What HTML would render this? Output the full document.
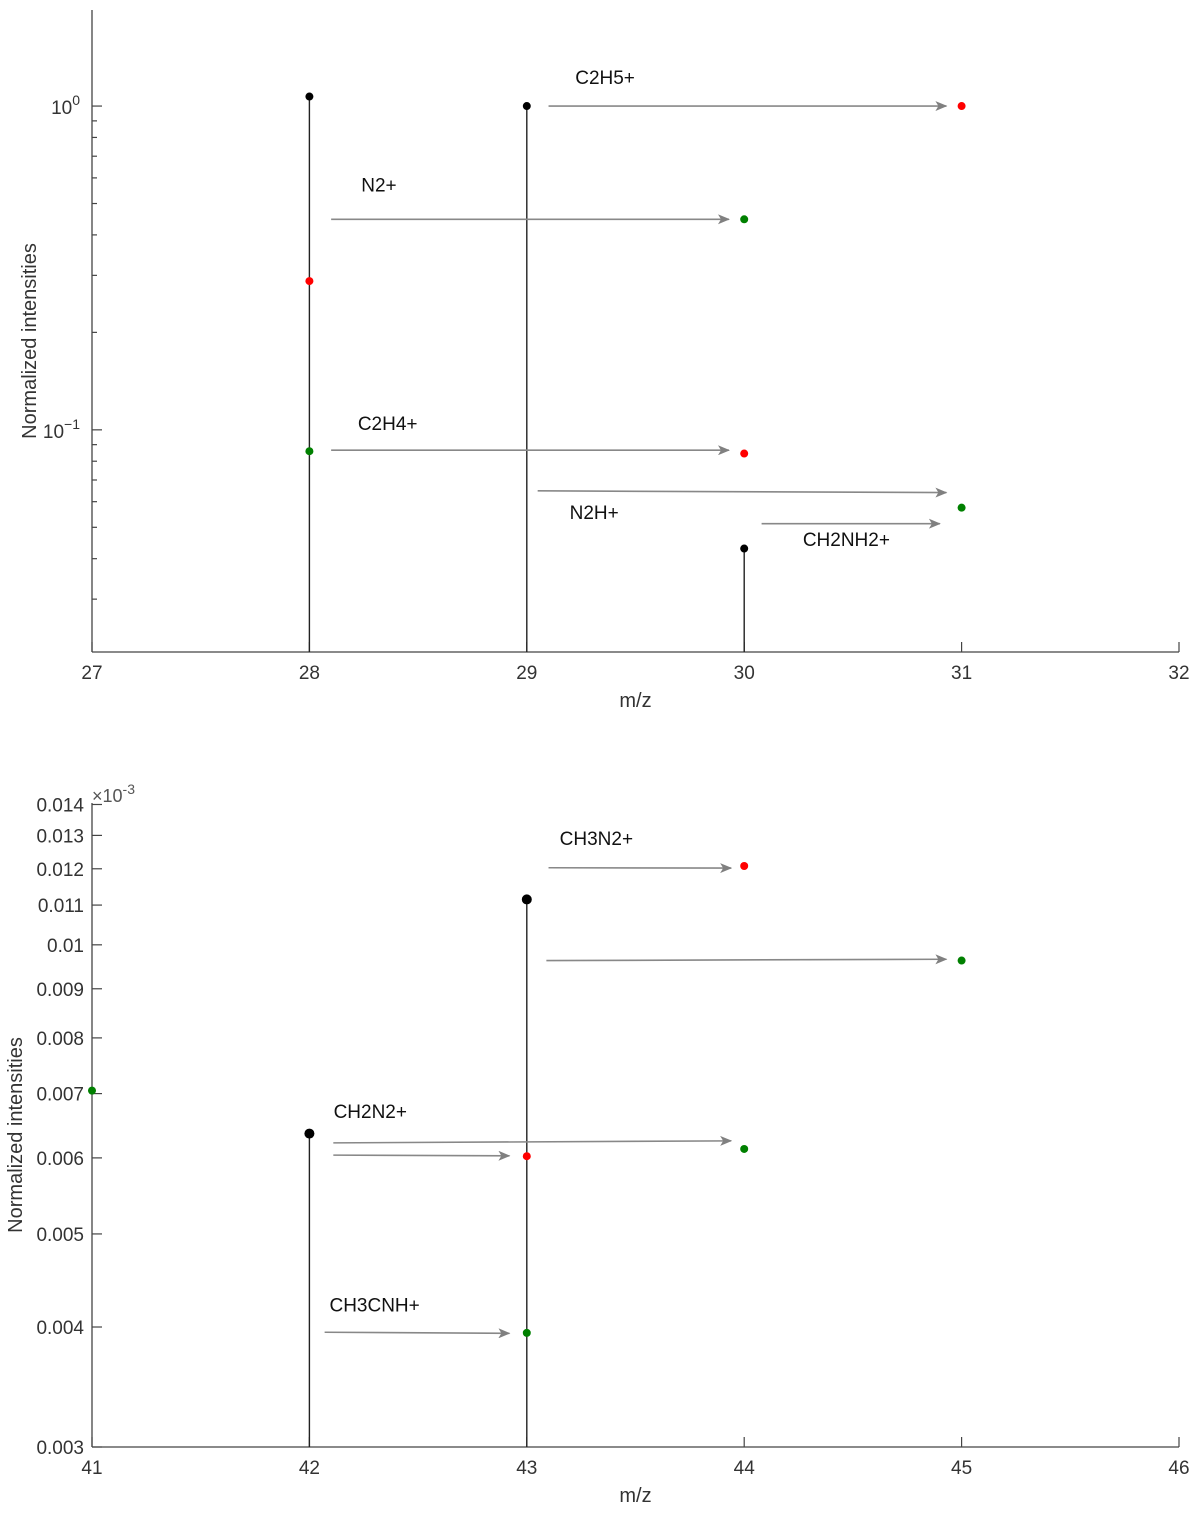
<!DOCTYPE html>
<html><head><meta charset="utf-8"><style>
html,body{margin:0;padding:0;background:#fff;}
svg{display:block;font-family:"Liberation Sans",sans-serif;}
</style></head><body>
<svg id="chart" width="1200" height="1519" viewBox="0 0 1200 1519">
<defs><marker id="ah" markerWidth="12" markerHeight="10" refX="11" refY="5" orient="auto" markerUnits="userSpaceOnUse"><path d="M0,0 L12,5 L0,10 L3,5 Z" fill="#808080"/></marker></defs>
</svg>
<script>
// ---- top panel data ----
const topXTicks=[27,28,29,30,31,32];
const topBlackX=[28,29,30];
const topBlackY=[1.07,1.0,0.043];
const topRedX=[28,30,31];
const topRedY=[0.288,0.0845,1.0];
const topGreenX=[28,30,31];
const topGreenY=[0.0859,0.447,0.0575];
const topArrowX0=[29.1,28.1,28.1,29.05,30.08];
const topArrowX1=[30.93,29.93,29.93,30.93,30.9];
const topArrowY0=[1.0,0.447,0.0865,0.0648,0.0513];
const topArrowY1=[1.0,0.447,0.0865,0.064,0.0513];
const topLabels=["C2H5+","N2+","C2H4+","N2H+","CH2NH2+"];
const topLabelX=[29.36,28.32,28.36,29.31,30.47];
const topLabelY=[1.17,0.545,0.1,0.053,0.0437];
// ---- bottom panel data ----
const botXTicks=[41,42,43,44,45,46];
const botYTicks=[0.003,0.004,0.005,0.006,0.007,0.008,0.009,0.01,0.011,0.012,0.013,0.014];
const botYTickLabels=["0.003","0.004","0.005","0.006","0.007","0.008","0.009","0.01","0.011","0.012","0.013","0.014"];
const botBlackX=[42,43];
const botBlackY=[0.00636,0.01115];
const botRedX=[43,44];
const botRedY=[0.006024,0.01208];
const botGreenX=[41,43,44,45];
const botGreenY=[0.00705,0.003944,0.00613,0.00963];
const botArrowX0=[43.1,43.09,42.11,42.11,42.07];
const botArrowX1=[43.94,44.93,43.94,42.92,42.92];
const botArrowY0=[0.01203,0.00963,0.00622,0.00604,0.00395];
const botArrowY1=[0.01202,0.00966,0.00625,0.00603,0.00394];
const botLabels=["CH3N2+","CH2N2+","CH3CNH+"];
const botLabelX=[43.32,42.28,42.3];
const botLabelY=[0.0127,0.0066,0.00415];

const svg=document.getElementById('chart');
const NS='http://www.w3.org/2000/svg';
function mk(tag,attrs,parent){const e=document.createElementNS(NS,tag);for(const k in attrs)e.setAttribute(k,attrs[k]);(parent||svg).appendChild(e);return e;}

function panel(cfg){
  const g=mk('g',{});
  
  
  const L=92,R=1179;
  const sx=v=>L+(v-cfg.x0)/(cfg.x1-cfg.x0)*(R-L);
  const ly0=Math.log10(cfg.y0),ly1=Math.log10(cfg.y1);
  const sy=v=>cfg.bot-(Math.log10(v)-ly0)/(ly1-ly0)*(cfg.bot-cfg.top);
  const ya=mk('line',{x1:L,y1:cfg.top,x2:L,y2:cfg.bot,stroke:'#444','stroke-width':1.3},g);
  
  
  const xa=mk('line',{x1:L,y1:cfg.bot,x2:R,y2:cfg.bot,stroke:'#444','stroke-width':1.3},g);
  
  
  cfg.xticks.forEach(t=>{
    mk('line',{x1:sx(t),y1:cfg.bot,x2:sx(t),y2:cfg.bot-10,stroke:'#444','stroke-width':1.2},g);
    const tx=mk('text',{x:sx(t),y:cfg.bot+27,'text-anchor':'middle','font-size':19,fill:'#333'},g);
    tx.textContent=t;
    
    
  });
  cfg.yticksFn(g,sy,L);
  const xt=mk('text',{x:(L+R)/2,y:cfg.bot+55,'text-anchor':'middle','font-size':20,fill:'#333'},g);
  xt.textContent='m/z';
  
  
  const yt=mk('text',{x:0,y:0,'text-anchor':'middle','font-size':20,fill:'#333',transform:`translate(${cfg.ytitleX},${(cfg.top+cfg.bot)/2+10}) rotate(-90)`},g);
  yt.textContent='Normalized intensities';
  
  
  cfg.bx.forEach((x,i)=>{
    const s=mk('line',{x1:sx(x),y1:cfg.bot,x2:sx(x),y2:sy(cfg.by[i]),stroke:'#222','stroke-width':1.4},g);
    
    
  });
  cfg.ax0.forEach((x,i)=>{
    const a=mk('line',{x1:sx(x),y1:sy(cfg.ay0[i]),x2:sx(cfg.ax1[i]),y2:sy(cfg.ay1[i]),stroke:'#888','stroke-width':1.6,'marker-end':'url(#ah)'},g);
    
    
  });
  cfg.labels.forEach((t,i)=>{
    const tx=mk('text',{x:sx(cfg.lx[i]),y:sy(cfg.ly[i]),'text-anchor':'middle','font-size':19,fill:'#111'},g);
    tx.textContent=t;
    
    
  });
  cfg.bx.forEach((x,i)=>{
    const c=mk('circle',{cx:sx(x),cy:sy(cfg.by[i]),r:cfg.br,fill:'#000'},g);
    
    
  });
  cfg.rx.forEach((x,i)=>{
    const c=mk('circle',{cx:sx(x),cy:sy(cfg.ry[i]),r:4,fill:'#ff0000'},g);
    
    
  });
  cfg.gx.forEach((x,i)=>{
    const c=mk('circle',{cx:sx(x),cy:sy(cfg.gy[i]),r:4,fill:'#008000'},g);
    
    
  });
}

panel({name:'top-panel',x0:27,x1:32,y0:0.0206,y1:1.98,top:10,bot:652,xticks:topXTicks,ytitleX:36,
  bx:topBlackX,by:topBlackY,br:4,rx:topRedX,ry:topRedY,gx:topGreenX,gy:topGreenY,
  ax0:topArrowX0,ax1:topArrowX1,ay0:topArrowY0,ay1:topArrowY1,labels:topLabels,lx:topLabelX,ly:topLabelY,
  yticksFn:(g,sy,L)=>{
    [0.01,0.1,1].forEach(d=>{for(let m=1;m<10;m++){const v=d*m;if(v<0.0206||v>1.98)continue;
      mk('line',{x1:L,y1:sy(v),x2:L+(m===1?10:5),y2:sy(v),stroke:'#444','stroke-width':1.2},g);}});
    [[1,'0'],[0.1,'−1']].forEach(([v,e])=>{
      const t=mk('text',{x:L-12,y:sy(v)+8,'text-anchor':'end','font-size':19,fill:'#333'},g);
      t.innerHTML='10<tspan dy="-9" font-size="14">'+e+'</tspan>';
      
      
    });
  }});

panel({name:'bottom-panel',x0:41,x1:46,y0:0.003,y1:0.01405,top:803,bot:1447,xticks:botXTicks,ytitleX:22,
  bx:botBlackX,by:botBlackY,br:5,rx:botRedX,ry:botRedY,gx:botGreenX,gy:botGreenY,
  ax0:botArrowX0,ax1:botArrowX1,ay0:botArrowY0,ay1:botArrowY1,labels:botLabels,lx:botLabelX,ly:botLabelY,
  yticksFn:(g,sy,L)=>{
    botYTicks.forEach((v,i)=>{
      mk('line',{x1:L,y1:sy(v),x2:L+10,y2:sy(v),stroke:'#444','stroke-width':1.2},g);
      const t=mk('text',{x:L-8,y:sy(v)+7,'text-anchor':'end','font-size':19,fill:'#333'},g);
      t.textContent=botYTickLabels[i];
      
      
    });
    const t=mk('text',{x:L,y:802,'font-size':18,fill:'#555'},g);
    t.innerHTML='×10<tspan dy="-8" font-size="14">-3</tspan>';
    
    
  }});
</script>
</body></html>
